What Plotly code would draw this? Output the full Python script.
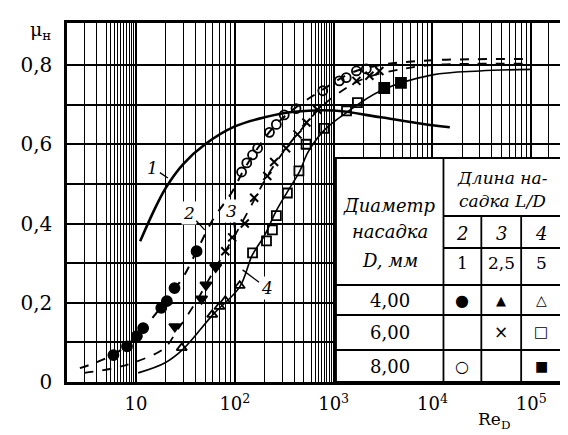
import math
import plotly.graph_objects as go

# ---------------- data ----------------
# curve 1 (solid)
c1_x = [11, 15, 20, 30, 50, 100, 200, 400, 1000, 3000, 10000, 15000]
c1_y = [0.355, 0.43, 0.49, 0.55, 0.60, 0.645, 0.668, 0.682, 0.685, 0.668, 0.648, 0.643]
# curve 2
c2_x = [2.7, 4, 6, 8, 10, 15, 20, 30, 41, 60, 94, 120, 170, 250, 400, 800, 1500, 3000, 10000, 100000]
c2_y = [0.035, 0.05, 0.07, 0.092, 0.115, 0.165, 0.205, 0.265, 0.33, 0.41, 0.48, 0.53, 0.59, 0.645, 0.69, 0.74, 0.78, 0.80, 0.812, 0.815]
# curve 3
c3_x = [3, 6, 10.5, 19.5, 26, 40, 55, 80, 100, 150, 213, 330, 500, 700, 1000, 2000, 5000, 10000, 100000]
c3_y = [0.023, 0.035, 0.053, 0.086, 0.13, 0.20, 0.26, 0.33, 0.37, 0.45, 0.52, 0.59, 0.645, 0.687, 0.72, 0.765, 0.79, 0.80, 0.803]
# curve 4
c4_x = [10.5, 19.5, 30, 60, 112, 150, 200, 260, 340, 450, 550, 800, 1350, 3000, 10000, 30000, 100000]
c4_y = [0.023, 0.048, 0.083, 0.17, 0.24, 0.32, 0.37, 0.43, 0.48, 0.53, 0.58, 0.635, 0.68, 0.735, 0.775, 0.785, 0.789]

# experimental points
d4_l2_x = [5.9, 8.1, 10.2, 11.8, 18, 20.5, 24.5, 41]            # filled circles
d4_l2_y = [0.068, 0.09, 0.116, 0.136, 0.187, 0.204, 0.237, 0.33]
d4_l25_x = [24.7, 46, 51, 64]                                    # filled triangles
d4_l25_y = [0.14, 0.21, 0.245, 0.29]
d4_l5_x = [29, 59, 70, 80, 112]                                  # open triangles
d4_l5_y = [0.086, 0.17, 0.19, 0.205, 0.243]
d6_l25_x = [80, 94, 126, 157, 213, 250, 330, 430, 530, 684, 1700, 2300, 2900]   # crosses
d6_l25_y = [0.33, 0.365, 0.40, 0.465, 0.52, 0.555, 0.59, 0.625, 0.655, 0.687, 0.76, 0.773, 0.785]
d6_l5_x = [151, 209, 240, 263, 340, 445, 526, 800, 1350, 1740]  # open squares
d6_l5_y = [0.326, 0.356, 0.384, 0.42, 0.477, 0.533, 0.60, 0.64, 0.684, 0.705]
d8_l2_x = [117, 132, 151, 170, 224, 263, 316, 416, 776, 1140, 1340, 1700, 2140]  # open circles
d8_l2_y = [0.53, 0.553, 0.573, 0.59, 0.63, 0.65, 0.674, 0.69, 0.735, 0.76, 0.768, 0.785, 0.79]
d8_l5_x = [3250, 4800]                                           # filled squares
d8_l5_y = [0.742, 0.755]

x_ticks = [10, 100, 1000, 10000, 100000]
x_ticktext = ["10", "10<sup>2</sup>", "10<sup>3</sup>", "10<sup>4</sup>", "10<sup>5</sup>"]
y_ticks = [0, 0.2, 0.4, 0.6, 0.8]
y_ticktext = ["0", "0,2", "0,4", "0,6", "0,8"]

x_minor = ([3, 4] + [5 + 0.5 * i for i in range(10)] +
           [20, 30, 40, 50, 60, 70, 80, 90] +
           [200, 300, 400, 500, 600, 650, 700, 750, 800, 850, 900, 950] +
           [2000, 3000, 4000, 5000, 6000, 7000, 8000, 9000] +
           [20000, 30000, 40000, 50000, 60000, 70000, 80000, 90000, 150000])
y_minor = [0.1, 0.3, 0.5, 0.7]

curve_labels = ["1", "2", "3", "4"]

SERIF = "DejaVu Serif"

fig = go.Figure()

def line(x, y, dash, width):
    fig.add_trace(go.Scatter(x=x, y=y, mode="lines", line=dict(color="black", width=width, dash=dash, shape="spline", smoothing=1.0), showlegend=False, hoverinfo="skip"))

line(c1_x, c1_y, "solid", 2.6)
line(c2_x, c2_y, "dash", 2.0)
line(c3_x, c3_y, "dash", 1.8)
line(c4_x, c4_y, "solid", 1.6)

def pts(x, y, symbol, size, lw=1.8):
    fig.add_trace(go.Scatter(x=x, y=y, mode="markers",
                             marker=dict(symbol=symbol, size=size, color="black",
                                         line=dict(color="black", width=lw)),
                             showlegend=False, hoverinfo="skip"))

pts(d4_l2_x, d4_l2_y, "circle", 10)
pts(d4_l25_x, d4_l25_y, "triangle-down", 10)
pts(d4_l5_x, d4_l5_y, "triangle-up-open", 9)
pts(d6_l25_x, d6_l25_y, "x-thin", 8, 2)
pts(d6_l5_x, d6_l5_y, "square-open", 9)
pts(d8_l2_x, d8_l2_y, "circle-open", 9)
pts(d8_l5_x, d8_l5_y, "square", 10)

# ---------------- layout ----------------
L, R, T, B = 57, 15, 15, 61
W, H = 568, 435
pw, ph = W - L - R, H - T - B

def px(xp):
    return (xp - L) / pw

def py(yp):
    return (H - B - yp) / ph

fig.update_layout(
    width=W, height=H,
    margin=dict(l=L, r=R, t=T, b=B),
    paper_bgcolor="white", plot_bgcolor="white",
    font=dict(family=SERIF, color="black"),
    xaxis=dict(type="log", range=[math.log10(2), math.log10(2e5)],
               tickvals=x_ticks, ticktext=x_ticktext, ticks="",
               tickfont=dict(size=18, family=SERIF), ticklabelstandoff=4,
               showgrid=True, gridcolor="black", gridwidth=1.8,
               showline=True, linecolor="black", linewidth=2.5, mirror=True,
               zeroline=False,
               minor=dict(tickvals=x_minor, showgrid=True, gridcolor="black", gridwidth=1, ticks="")),
    yaxis=dict(range=[0, 0.906], tickvals=y_ticks, ticktext=y_ticktext, ticks="",
               tickfont=dict(size=20, family=SERIF), ticklabelstandoff=8,
               showgrid=True, gridcolor="black", gridwidth=1.8,
               showline=True, linecolor="black", linewidth=2.5, mirror=True,
               zeroline=False,
               minor=dict(tickvals=y_minor, showgrid=True, gridcolor="black", gridwidth=1.8, ticks="")),
)

# table
tx0, tx1 = px(327), 1.0
ty0, ty1 = 0.0, py(150)
shapes = [dict(type="rect", xref="paper", yref="paper", x0=tx0, x1=tx1, y0=ty0, y1=ty1,
               fillcolor="white", line=dict(color="black", width=2), layer="above")]
def hline(yp, x0p, x1p):
    shapes.append(dict(type="line", xref="paper", yref="paper", x0=px(x0p), x1=px(x1p), y0=py(yp), y1=py(yp),
                       line=dict(color="black", width=1.8), layer="above"))
def vline(xp, y0p, y1p):
    shapes.append(dict(type="line", xref="paper", yref="paper", x0=px(xp), x1=px(xp), y0=py(y0p), y1=py(y1p),
                       line=dict(color="black", width=1.8), layer="above"))
vline(435, 150, 374)
vline(473, 208, 374)
vline(513, 208, 374)
hline(208, 435, 553)
hline(240, 435, 553)
hline(277, 327, 553)
hline(307, 327, 553)
hline(342, 327, 553)
fig.update_layout(shapes=shapes)

ann = []
def txt(xp, yp, s, size=17, italic=False, family=SERIF):
    ann.append(dict(xref="paper", yref="paper", x=px(xp), y=py(yp), text=s, showarrow=False,
                    xanchor="center", yanchor="middle",
                    font=dict(size=size, family=family, style="italic" if italic else "normal", color="black")))

txt(494, 170, "Длина на-", 17, True)
txt(494, 193, "садка L/D", 17, True)
txt(381, 197, "Диаметр", 18, True)
txt(381, 223, "насадка", 18, True)
txt(381, 252, "D, мм", 18, True)
for xp, s in zip([454, 493, 533], ["2", "3", "4"]):
    txt(xp, 225, s, 18, True)
for xp, s in zip([454, 493, 533], ["1", "2,5", "5"]):
    txt(xp, 255, s, 17, False)
txt(381, 292, "4,00", 18)
txt(381, 324, "6,00", 18)
txt(381, 358, "8,00", 18)
SYM = "DejaVu Sans"
txt(454, 292, "●", 16, family=SYM)
txt(493, 292, "▲", 13, family=SYM)
txt(533, 292, "△", 14, family=SYM)
txt(493, 324, "×", 17, family=SYM)
txt(533, 324, "□", 15, family=SYM)
txt(454, 358, "○", 16, family=SYM)
txt(533, 358, "■", 14, family=SYM)

# axis titles
txt(30, 22, "μ<sub>н</sub>", 19)
txt(486, 412, "Re<sub>D</sub>", 17)

# curve labels with leader lines (head at curve, text offset in px)
label_pos = [(1.322, 0.515, -15, -10), (1.695, 0.384, -16, -17), (2.0, 0.384, -3, -19), (2.078, 0.283, 24, 18)]
for lab, (lx, ly, ax, ay) in zip(curve_labels, label_pos):
    ann.append(dict(x=lx, y=ly, xref="x", yref="y", text=lab, showarrow=True, arrowhead=0,
                    arrowwidth=1.3, arrowcolor="black", ax=ax, ay=ay, standoff=0,
                    bgcolor="white",
                    font=dict(size=17, family=SERIF, style="italic", color="black")))

fig.update_layout(annotations=ann)

fig.write_html("out.html")
